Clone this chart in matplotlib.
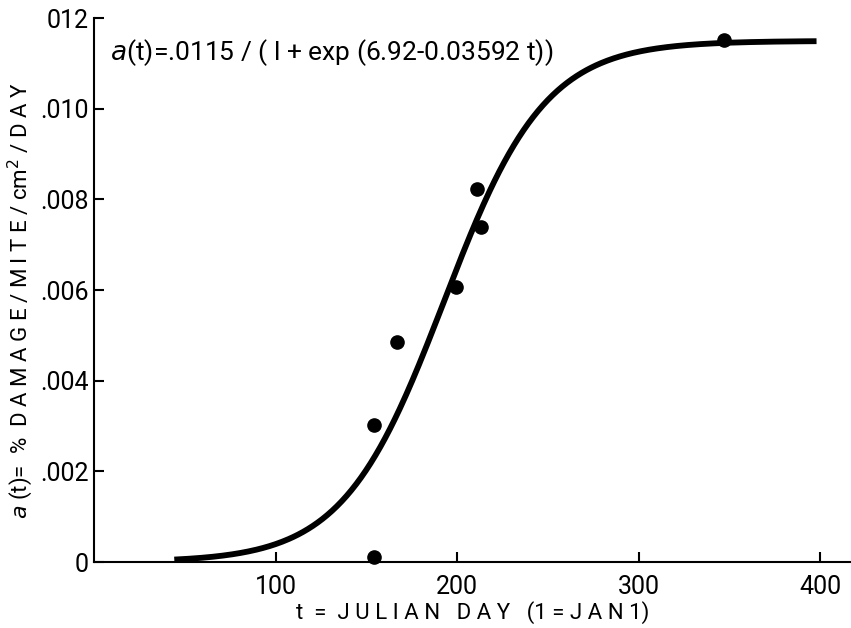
import numpy as np
import matplotlib
matplotlib.use("Agg")
import matplotlib.pyplot as plt

# Observed data points (t = Julian day, a(t))
obs_t = [154, 154, 167, 199.5, 211, 213, 347]
obs_a = [0.00012, 0.00302, 0.00486, 0.00608, 0.00823, 0.00740, 0.01153]

# Fitted logistic model given in chart annotation
A_MAX = 0.0115
B0 = 6.92
B1 = 0.03592
t_start, t_end = 44, 398

x_ticks = [100, 200, 300, 400]
x_ticklabels = ["100", "200", "300", "400"]
y_ticks = [0, 0.002, 0.004, 0.006, 0.008, 0.010, 0.012]
y_ticklabels = ["0", ".002", ".004", ".006", ".008", ".010", "012"]

plt.rcParams['font.family'] = ['Roboto', 'DejaVu Sans']
plt.rcParams['mathtext.fontset'] = 'dejavusans'

fig = plt.figure(figsize=(8.51, 6.28), dpi=100)
ax = fig.add_axes([0.111, 0.105, 0.889, 0.866])

t = np.linspace(t_start, t_end, 400)
a = A_MAX / (1 + np.exp(B0 - B1 * t))
ax.plot(t, a, color='black', lw=4.2, solid_capstyle='butt', zorder=3)
ax.plot(obs_t, obs_a, 'o', color='black', ms=9.5, zorder=4, clip_on=False)

ax.set_xlim(0, 417)
ax.set_ylim(0, 0.012)
ax.set_xticks(x_ticks)
ax.set_xticklabels(x_ticklabels)
ax.set_yticks(y_ticks)
ax.set_yticklabels(y_ticklabels)

for s in ['top', 'right']:
    ax.spines[s].set_visible(False)
for s in ['left', 'bottom']:
    ax.spines[s].set_linewidth(1.5)
ax.tick_params(direction='in', length=7, width=1.5, labelsize=18, pad=4)
ax.tick_params(axis='x', pad=9)

ax.set_xlabel("t  =  J U L I A N   D A Y   (1 = J A N 1)", fontsize=16, labelpad=2)
ax.set_ylabel(r"$\mathit{a}$ (t)=  %  D A M A G E / M I T E / cm$^2$ / D A Y",
              fontsize=16)
ax.yaxis.set_label_coords(-0.078, 0.48)

ax.text(0.02, 0.965, r"$\mathit{a}$(t)=.0115 / ( l + exp (6.92-0.03592 t))",
        transform=ax.transAxes, fontsize=19, va='top', ha='left')

fig.savefig("out.png", dpi=100)
